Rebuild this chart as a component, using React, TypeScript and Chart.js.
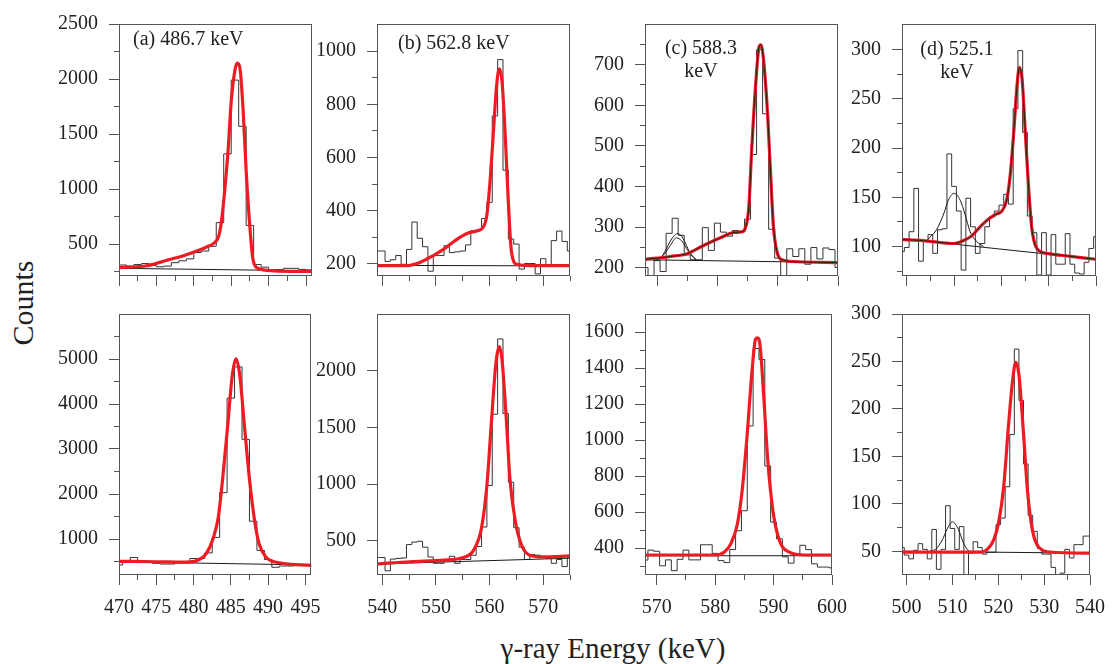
import React, { useEffect, useRef } from 'react';
import { Chart, registerables } from 'chart.js';

Chart.register(...registerables);

type Pt = [number, number];

// ---------------- DATA ----------------
// Histogram counts, 1 keV bins; *Start = lower edge of the first bin (keV)
const aTopStart = 470;
const aTopCounts = [310, 300, 314, 323, 305, 294, 300, 331, 348, 366, 423, 437, 480, 695, 1320, 1990, 1570, 670, 314, 290, 266, 269, 280, 280, 270, 266];
const aBotStart = 469.5;
const aBotCounts = [422, 494, 589, 494, 494, 460, 444, 444, 472, 472, 567, 567, 690, 1035, 2031, 4131, 4824, 3215, 1396, 747, 545, 372, 400, 400, 408, 408, 408];

const bTopStart = 538.5;
const bTopCounts = [248, 248, 209, 215, 231, 198, 254, 357, 296, 264, 172, 231, 231, 268, 242, 245, 248, 271, 325, 325, 370, 431, 756, 968, 552, 293, 274, 180, 201, 201, 162, 219, 192, 287, 323, 284, 248];
const bBotStart = 538.5;
const bBotCounts = [354, 354, 237, 340, 346, 350, 468, 490, 497, 445, 359, 303, 303, 337, 365, 303, 337, 337, 374, 451, 623, 989, 1617, 2280, 1623, 1017, 617, 445, 337, 380, 375, 360, 346, 303, 337, 274, 354];

const cTopStart = 567.5;
const cTopCounts = [201, 179, 218, 191, 285, 322, 280, 232, 220, 220, 299, 243, 310, 288, 278, 292, 289, 320, 479, 737, 579, 295, 224, 179, 247, 228, 247, 209, 250, 222, 249, 245, 201];
const cBotStart = 567.5;
const cBotCounts = [333, 388, 382, 301, 334, 274, 337, 388, 334, 334, 418, 418, 370, 330, 319, 391, 496, 607, 1078, 1508, 1447, 856, 544, 451, 351, 316, 361, 415, 391, 312, 294, 294, 290];

const dTopStart = 498.5;
const dTopCounts = [95, 99, 115, 159, 85, 106, 112, 93, 117, 118, 194, 161, 136, 76, 149, 120, 93, 103, 120, 130, 136, 142, 153, 143, 240, 299, 216, 131, 114, 71, 114, 71, 112, 82, 82, 113, 82, 73, 72, 84, 98, 110];
const dBotStart = 498.5;
const dBotCounts = [54, 46, 42, 51, 58, 52, 42, 73, 31, 52, 98, 74, 52, 76, 25, 48, 60, 54, 47, 49, 49, 78, 85, 118, 173, 263, 209, 142, 88, 71, 53, 47, 47, 33, 25, 27, 52, 43, 57, 57, 66, 66];

// Fit curves (keV, counts)
const aTopFit: Pt[] = [[470, 286], [473.7, 303], [476.3, 351], [478.6, 394], [480.4, 437], [481.7, 474], [482.7, 509], [483.3, 566], [483.7, 708], [484.1, 966], [484.6, 1366], [485.0, 1795], [485.5, 2081], [485.8, 2144], [486.2, 2081], [486.6, 1709], [487.0, 1166], [487.5, 652], [487.9, 365], [488.6, 280], [490.6, 257], [495.8, 251]];
const aTopBg: Pt[] = [[470, 280], [495.8, 257]];
const aBotFit: Pt[] = [[470, 505], [475, 494], [479, 486], [480.5, 520], [481.7, 675], [482.6, 1000], [483.3, 1468], [483.9, 2334], [484.6, 3561], [485.2, 4644], [485.7, 5005], [486.2, 4644], [486.8, 3561], [487.5, 2334], [488.2, 1396], [488.8, 892], [489.7, 602], [491.5, 472], [495.8, 415]];
const aBotBg: Pt[] = [[470, 494], [495.8, 422]];

const bTopFit: Pt[] = [[539, 193], [544.5, 193], [547, 205], [549.5, 231], [551.4, 254], [553.9, 292], [556, 316], [557.9, 325], [558.8, 337], [559.5, 384], [560.1, 514], [560.7, 691], [561.3, 868], [561.8, 933], [562.3, 891], [562.9, 691], [563.5, 431], [564.1, 242], [565.1, 198], [567.5, 193], [575, 193]];
const bTopBg: Pt[] = [[539, 194], [575, 192]];
const bBotFit: Pt[] = [[539, 297], [545.2, 317], [551.4, 331], [555.1, 354], [557, 417], [558.5, 617], [559.5, 989], [560.4, 1589], [561.2, 2075], [561.8, 2212], [562.3, 2104], [563.1, 1589], [563.8, 1045], [564.8, 674], [566, 460], [567.5, 374], [570, 359], [575, 368]];
const bBotBg: Pt[] = [[539, 297], [575, 348]];

const cTopFit: Pt[] = [[568, 221], [572.2, 228], [575, 235], [577.7, 255], [580.5, 274], [582.7, 287], [584.1, 289], [584.6, 297], [585.2, 347], [585.7, 493], [586.4, 662], [586.9, 743], [587.2, 749], [587.5, 732], [588.2, 609], [588.8, 439], [589.3, 301], [589.9, 239], [590.7, 220], [593.2, 215], [600, 213]];
const cTopBg: Pt[] = [[568, 220], [600, 213]];
const cTopComp1: Pt[] = [[569.4, 218], [570.6, 224], [571.4, 243], [572.2, 266], [572.9, 280], [573.3, 284], [573.9, 281], [574.7, 261], [575.5, 235], [576.5, 220]];
const cTopComp2: Pt[] = [[569.7, 218], [571.1, 232], [572.2, 255], [573.2, 274], [574.1, 266], [575.2, 241], [576.6, 218]];
const cBotFit: Pt[] = [[568, 361], [580, 361], [581.6, 378], [582.7, 424], [583.8, 532], [584.6, 712], [585.5, 1036], [586.3, 1378], [586.9, 1559], [587.2, 1568], [587.7, 1523], [588.3, 1252], [589, 892], [589.9, 604], [591, 442], [592.6, 378], [595.4, 361], [600, 361]];
const cBotBg: Pt[] = [[568, 357], [600, 357]];

const dTopFit: Pt[] = [[499, 107], [503.5, 106], [507.1, 104], [509.9, 103], [512, 106], [513.8, 111], [515.5, 120], [517.3, 128], [519, 133], [520.1, 136], [521.2, 149], [521.9, 174], [522.6, 215], [523.3, 263], [523.8, 282], [524.4, 269], [525, 221], [525.7, 164], [526.4, 120], [527.5, 98], [529.6, 93], [534.6, 90], [540, 87]];
const dTopBg: Pt[] = [[499, 108], [540, 87]];
const dTopComp: Pt[] = [[504.2, 106], [506.3, 117], [507.8, 133], [508.8, 147], [510, 154], [511.3, 147], [512.3, 133], [513.4, 115], [514.8, 105], [516.2, 100]];
const dBotFit: Pt[] = [[499, 49], [516.2, 49], [517.6, 52], [519, 62], [520.1, 81], [521.2, 119], [522.2, 181], [523.1, 229], [523.8, 249], [524.5, 236], [525.4, 181], [526.4, 112], [527.5, 71], [528.9, 54], [531.7, 49], [540, 48]];
const dBotBg: Pt[] = [[499, 50], [540, 48]];
const dBotComp: Pt[] = [[505, 50], [506.3, 52], [507.8, 62], [508.8, 73], [510, 81], [511.3, 73], [512.3, 60], [513.4, 51], [514.5, 49.5]];

// Tick values
const aXMajor = [470, 475, 480, 485, 490, 495];
const aXMinor = [472.5, 477.5, 482.5, 487.5, 492.5];
const bXMajor = [540, 550, 560, 570];
const bXMinor = [545, 555, 565, 575];
const cXMajor = [570, 580, 590, 600];
const cXMinor = [575, 585, 595];
const dXMajor = [500, 510, 520, 530, 540];
const dXMinor = [505, 515, 525, 535];

const aTopYMajor = [500, 1000, 1500, 2000, 2500];
const aTopYMinor = [250, 750, 1250, 1750, 2250];
const bTopYMajor = [200, 400, 600, 800, 1000];
const bTopYMinor = [300, 500, 700, 900];
const cTopYMajor = [200, 300, 400, 500, 600, 700];
const cTopYMinor = [250, 350, 450, 550, 650, 750];
const dTopYMajor = [100, 150, 200, 250, 300];
const dTopYMinor = [75, 125, 175, 225, 275];
const aBotYMajor = [1000, 2000, 3000, 4000, 5000];
const aBotYMinor = [500, 1500, 2500, 3500, 4500, 5500];
const bBotYMajor = [500, 1000, 1500, 2000];
const bBotYMinor: number[] = [];
const cBotYMajor = [400, 600, 800, 1000, 1200, 1400, 1600];
const cBotYMinor = [300, 500, 700, 900, 1100, 1300, 1500];
const dBotYMajor = [50, 100, 150, 200, 250, 300];
const dBotYMinor = [75, 125, 175, 225, 275];

// ---------------- STYLE / LAYOUT ----------------
const FONT = "'Liberation Serif', 'Times New Roman', serif";
const RED = '#ED1C24';
const INK = '#222';
const FRAME = '#555';

const COLS = { a: [119, 312], b: [377, 570], c: [645, 838], d: [902, 1096] };
const ROWS = { top: [17, 285], bot: [307, 575] };

interface Panel {
  col: keyof typeof COLS;
  row: keyof typeof ROWS;
  xMin: number; xMax: number; xMajor: number[]; xMinor: number[];
  yMin: number; yMax: number; yMajor: number[]; yMinor: number[];
  start: number; counts: number[];
  fit: Pt[]; bg: Pt[]; comps: Pt[][]; core: boolean;
}

const PANELS: Panel[] = [
  { col: 'a', row: 'top', xMin: 470, xMax: 495.8, xMajor: aXMajor, xMinor: aXMinor, yMin: 210, yMax: 2500, yMajor: aTopYMajor, yMinor: aTopYMinor, start: aTopStart, counts: aTopCounts, fit: aTopFit, bg: aTopBg, comps: [], core: false },
  { col: 'b', row: 'top', xMin: 539, xMax: 575, xMajor: bXMajor, xMinor: bXMinor, yMin: 154, yMax: 1102, yMajor: bTopYMajor, yMinor: bTopYMinor, start: bTopStart, counts: bTopCounts, fit: bTopFit, bg: bTopBg, comps: [], core: false },
  { col: 'c', row: 'top', xMin: 568, xMax: 600, xMajor: cXMajor, xMinor: cXMinor, yMin: 180, yMax: 800, yMajor: cTopYMajor, yMinor: cTopYMinor, start: cTopStart, counts: cTopCounts, fit: cTopFit, bg: cTopBg, comps: [cTopComp1, cTopComp2], core: true },
  { col: 'd', row: 'top', xMin: 499, xMax: 540, xMajor: dXMajor, xMinor: dXMinor, yMin: 70, yMax: 326, yMajor: dTopYMajor, yMinor: dTopYMinor, start: dTopStart, counts: dTopCounts, fit: dTopFit, bg: dTopBg, comps: [dTopComp], core: true },
  { col: 'a', row: 'bot', xMin: 470, xMax: 495.8, xMajor: aXMajor, xMinor: aXMinor, yMin: 200, yMax: 6000, yMajor: aBotYMajor, yMinor: aBotYMinor, start: aBotStart, counts: aBotCounts, fit: aBotFit, bg: aBotBg, comps: [], core: false },
  { col: 'b', row: 'bot', xMin: 539, xMax: 575, xMajor: bXMajor, xMinor: bXMinor, yMin: 200, yMax: 2500, yMajor: bBotYMajor, yMinor: bBotYMinor, start: bBotStart, counts: bBotCounts, fit: bBotFit, bg: bBotBg, comps: [], core: false },
  { col: 'c', row: 'bot', xMin: 568, xMax: 600, xMajor: cXMajor, xMinor: cXMinor, yMin: 250, yMax: 1700, yMajor: cBotYMajor, yMinor: cBotYMinor, start: cBotStart, counts: cBotCounts, fit: cBotFit, bg: cBotBg, comps: [], core: false },
  { col: 'd', row: 'bot', xMin: 499, xMax: 540, xMajor: dXMajor, xMinor: dXMinor, yMin: 25, yMax: 300, yMajor: dBotYMajor, yMinor: dBotYMinor, start: dBotStart, counts: dBotCounts, fit: dBotFit, bg: dBotBg, comps: [dBotComp], core: false },
];

function histPoints(start: number, counts: number[]) {
  const pts = counts.map((c, i) => ({ x: start + i, y: c }));
  pts.push({ x: start + counts.length, y: counts[counts.length - 1] });
  return pts;
}
const toXY = (p: Pt[]) => p.map(([x, y]) => ({ x, y }));

function axisOpts(kind: 'x' | 'y', min: number, max: number, majors: number[], minors: number[], labels: boolean, size: number) {
  const all = [...majors, ...minors].sort((a, b) => a - b);
  const isMajor = (v: number) => majors.some((m) => Math.abs(m - v) < 1e-6);
  return {
    type: 'linear',
    position: kind === 'x' ? 'bottom' : 'left',
    min,
    max,
    afterBuildTicks: (s: any) => {
      s.ticks = all.map((v) => ({ value: v }));
    },
    afterFit: (s: any) => {
      if (kind === 'x') s.height = size;
      else s.width = size;
    },
    border: { display: false },
    grid: {
      drawOnChartArea: false,
      drawTicks: true,
      tickLength: 10,
      tickColor: FRAME,
      tickWidth: 1,
      tickBorderDash: (c: any) => {
        if (!c || !c.tick) return [];
        if (isMajor(c.tick.value)) return [];
        return kind === 'x' ? [5, 60] : [0, 5, 5, 60];
      },
    },
    ticks: {
      autoSkip: false,
      maxRotation: 0,
      minRotation: 0,
      padding: 11,
      color: INK,
      font: { family: FONT, size: 20 },
      callback: (v: any) => (labels && isMajor(Number(v)) ? String(v) : ''),
    },
  };
}

const boxPlugin = {
  id: 'frameBox',
  afterDraw(chart: any) {
    const { ctx, chartArea: a } = chart;
    ctx.save();
    ctx.strokeStyle = FRAME;
    ctx.lineWidth = 1;
    ctx.strokeRect(Math.round(a.left) + 0.5, Math.round(a.top) + 0.5, Math.round(a.right - a.left) - 1, Math.round(a.bottom - a.top) - 1);
    ctx.restore();
  },
};

const YW = 70;
const PT = 16;
const PR = 20;

function PanelChart({ p }: { p: Panel }) {
  const ref = useRef<HTMLCanvasElement>(null);
  const [l, r] = COLS[p.col];
  const [t, b] = ROWS[p.row];
  const labels = p.row === 'bot';
  const XH = labels ? 50 : 14;
  const w = r - l + YW + PR;
  const h = b - t + PT + XH;

  useEffect(() => {
    if (!ref.current) return;
    const line = { pointRadius: 0, fill: false, cubicInterpolationMode: 'monotone' };
    const datasets: any[] = [];
    if (p.core) datasets.push({ ...line, data: toXY(p.fit), borderColor: '#1a1a1a', borderWidth: 0.9, order: -1 });
    datasets.push({ ...line, data: toXY(p.fit), borderColor: RED, borderWidth: 3.2, borderJoinStyle: 'round', order: 0 });
    p.comps.forEach((c) => datasets.push({ ...line, data: toXY(c), borderColor: '#1a1a1a', borderWidth: 1, order: 1 }));
    datasets.push({ ...line, data: toXY(p.bg), borderColor: '#1a1a1a', borderWidth: 1, order: 2 });
    datasets.push({ pointRadius: 0, fill: false, data: histPoints(p.start, p.counts), borderColor: '#333', borderWidth: 1, stepped: 'before', order: 3 });

    const chart = new Chart(ref.current, {
      type: 'line',
      data: { datasets },
      options: {
        animation: false,
        responsive: false,
        devicePixelRatio: 1,
        events: [],
        layout: { padding: { top: PT, right: PR, left: 0, bottom: 0 } },
        plugins: { legend: { display: false }, tooltip: { enabled: false }, title: { display: false } },
        scales: {
          x: axisOpts('x', p.xMin, p.xMax, p.xMajor, p.xMinor, labels, XH) as any,
          y: axisOpts('y', p.yMin, p.yMax, p.yMajor, p.yMinor, true, YW) as any,
        },
      },
      plugins: [boxPlugin],
    } as any);
    return () => chart.destroy();
  }, []);

  return (
    <canvas
      ref={ref}
      width={w}
      height={h}
      style={{ position: 'absolute', left: l - YW, top: t - PT, width: w, height: h }}
    />
  );
}

const txt: React.CSSProperties = {
  position: 'absolute',
  fontFamily: FONT,
  color: INK,
  fontSize: 20,
  lineHeight: '20px',
  whiteSpace: 'nowrap',
};

export default function App() {
  return (
    <div style={{ position: 'absolute', left: 0, top: 0, width: 1112, height: 664, background: '#fff', overflow: 'hidden' }}>
      {PANELS.map((p, i) => (
        <PanelChart key={i} p={p} />
      ))}
      <div style={{ ...txt, left: 133, top: 28 }}>(a) 486.7 keV</div>
      <div style={{ ...txt, left: 398, top: 32 }}>(b) 562.8 keV</div>
      <div style={{ ...txt, left: 641, top: 36, width: 120, textAlign: 'center', lineHeight: '23px', whiteSpace: 'normal' }}>
        (c) 588.3
        <br />
        keV
      </div>
      <div style={{ ...txt, left: 897, top: 37, width: 120, textAlign: 'center', lineHeight: '23px', whiteSpace: 'normal' }}>
        (d) 525.1
        <br />
        keV
      </div>
      <div
        style={{
          ...txt,
          left: -37,
          top: 288,
          width: 120,
          height: 30,
          fontSize: 30,
          lineHeight: '30px',
          textAlign: 'center',
          transform: 'rotate(-90deg)',
          transformOrigin: '50% 50%',
        }}
      >
        Counts
      </div>
      <div style={{ ...txt, left: 413, top: 634, width: 400, fontSize: 29, lineHeight: '29px', textAlign: 'center' }}>
        γ-ray Energy (keV)
      </div>
    </div>
  );
}
